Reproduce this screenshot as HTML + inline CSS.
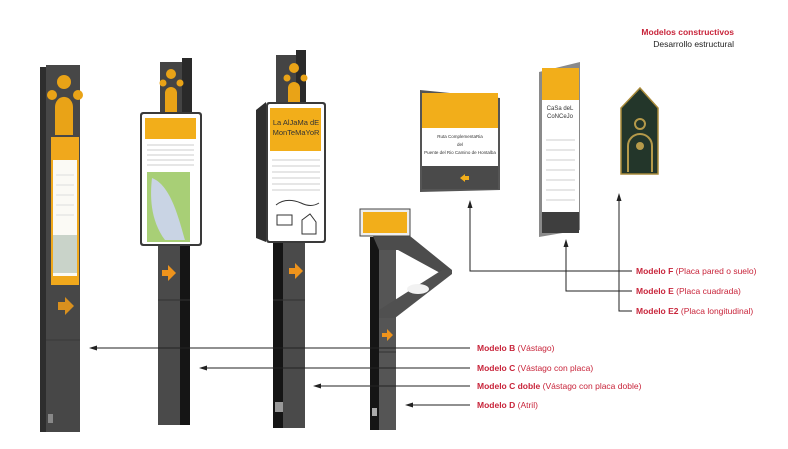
<!DOCTYPE html>
<html><head><meta charset="utf-8"><style>
html,body{margin:0;padding:0;background:#fff;}
svg{display:block;font-family:"Liberation Sans",Arial,sans-serif;}
</style></head><body>
<svg width="788" height="449" viewBox="0 0 788 449" xmlns="http://www.w3.org/2000/svg">
<!-- Post 1 Modelo B -->
<rect x="40" y="67" width="6" height="365" fill="#2e2e2e"/>
<rect x="46" y="65" width="34" height="367" fill="#474747"/>
<circle cx="64" cy="82" r="7" fill="#e9a317"/>
<circle cx="52" cy="95" r="5" fill="#e9a317"/>
<circle cx="78" cy="95" r="5" fill="#e9a317"/>
<path d="M55,135 V107 A8,9 0 0 1 73,107 V135 Z" fill="#e9a317"/>
<rect x="51" y="137" width="28" height="148" fill="#f0a81c"/>
<rect x="53" y="160" width="24" height="116" fill="#fbfaf5"/>
<g stroke="#ddd"><line x1="56" y1="175" x2="74" y2="175"/><line x1="56" y1="185" x2="74" y2="185"/><line x1="56" y1="195" x2="74" y2="195"/><line x1="56" y1="205" x2="74" y2="205"/><line x1="56" y1="215" x2="74" y2="215"/></g>
<rect x="53" y="235" width="24" height="38" fill="#c9d3c9"/>
<path d="M58,302 h7 v-5 l9,9 -9,9 v-5 h-7 Z" fill="#d9901e"/>
<line x1="46" y1="340" x2="80" y2="340" stroke="#3a3a3a"/>
<rect x="48" y="414" width="5" height="9" fill="#888"/>
<!-- Post 2 Modelo C -->
<rect x="160" y="62" width="22" height="56" fill="#444"/>
<rect x="182" y="58" width="10" height="60" fill="#2a2a2a"/>
<circle cx="171" cy="74" r="5" fill="#e9a317"/>
<circle cx="163" cy="83" r="3.5" fill="#e9a317"/>
<circle cx="180" cy="83" r="3.5" fill="#e9a317"/>
<path d="M165,112 V93 A6,6 0 0 1 177,93 V112 Z" fill="#e9a317"/>
<rect x="158" y="245" width="22" height="180" fill="#4a4a4a"/>
<rect x="180" y="245" width="10" height="180" fill="#151515"/>
<line x1="158" y1="300" x2="190" y2="300" stroke="#333"/>
<path d="M162,270 h6 v-5 l8,8 -8,8 v-5 h-6 Z" fill="#ee931c"/>
<rect x="140" y="112" width="62" height="134" rx="3" fill="#3a3a3a"/>
<rect x="142" y="114" width="58" height="130" rx="2" fill="#fff"/>
<rect x="145" y="118" width="51" height="21" fill="#f2ae1a"/>
<g stroke="#ccc" stroke-width="1"><line x1="147" y1="145" x2="194" y2="145"/><line x1="147" y1="150" x2="194" y2="150"/><line x1="147" y1="155" x2="194" y2="155"/><line x1="147" y1="160" x2="194" y2="160"/><line x1="147" y1="165" x2="194" y2="165"/></g>
<rect x="147" y="172" width="43" height="70" fill="#a8cf76"/>
<path d="M152,178 C170,185 178,215 185,240 L165,240 C150,220 150,195 152,178 Z" fill="#c9d4e4"/>
<!-- Post 3 Modelo C doble -->
<rect x="276" y="55" width="20" height="56" fill="#444"/>
<rect x="296" y="50" width="10" height="60" fill="#2a2a2a"/>
<circle cx="294" cy="68" r="5" fill="#e9a317"/>
<circle cx="287" cy="78" r="3.5" fill="#e9a317"/>
<circle cx="304" cy="78" r="3.5" fill="#e9a317"/>
<path d="M288,108 V88 A6,6 0 0 1 300,88 V108 Z" fill="#e9a317"/>
<rect x="273" y="242" width="10" height="186" fill="#151515"/>
<rect x="283" y="242" width="22" height="186" fill="#4a4a4a"/>
<line x1="273" y1="300" x2="305" y2="300" stroke="#333"/>
<path d="M289,268 h6 v-5 l8,8 -8,8 v-5 h-6 Z" fill="#ee931c"/>
<rect x="275" y="402" width="8" height="10" fill="#999"/>
<polygon points="256,110 266,102 266,242 256,238" fill="#2e2e2e"/>
<rect x="266" y="102" width="60" height="141" rx="3" fill="#3a3a3a"/>
<rect x="268" y="104" width="56" height="137" rx="2" fill="#fff"/>
<rect x="270" y="108" width="51" height="43" fill="#f2ae1a"/>
<text x="296" y="125" font-size="7.5" text-anchor="middle" fill="#333">La AlJaMa dE</text>
<text x="296" y="135" font-size="7.5" text-anchor="middle" fill="#333">MonTeMaYoR</text>
<g stroke="#ccc" stroke-width="1"><line x1="272" y1="160" x2="320" y2="160"/><line x1="272" y1="166" x2="320" y2="166"/><line x1="272" y1="172" x2="320" y2="172"/><line x1="272" y1="178" x2="320" y2="178"/><line x1="272" y1="184" x2="320" y2="184"/><line x1="272" y1="190" x2="320" y2="190"/></g>
<path d="M276,205 q10,-8 25,-2 q10,5 18,0 M277,215 h15 v10 h-15 Z M302,220 l8,-6 l6,8 v12 h-14 Z" stroke="#333" fill="none"/>
<!-- Post 4 Modelo D -->
<rect x="370" y="237" width="9" height="193" fill="#151515"/>
<rect x="379" y="237" width="17" height="193" fill="#555"/>
<polygon points="372,234 410,236 452,270 442,274 398,250 379,250" fill="#4c4c4c"/>
<polygon points="452,270 452,274 395,318 379,318 379,310 442,270" fill="#505050"/>
<ellipse cx="418" cy="289" rx="11" ry="5" fill="#f2f2f2"/>
<line x1="379" y1="352" x2="396" y2="352" stroke="#333"/>
<path d="M382,333 h5 v-4 l6,6 -6,6 v-4 h-5 Z" fill="#ee931c"/>
<rect x="372" y="408" width="5" height="8" fill="#aaa"/>
<rect x="360" y="209" width="50" height="27" fill="#eee" stroke="#444"/>
<rect x="363" y="212" width="44" height="21" fill="#f2ae1a"/>
<!-- Modelo F -->
<polygon points="420,90 500,98 500,190 420,192" fill="#555"/>
<rect x="422" y="93" width="76" height="96" fill="#fff"/>
<rect x="422" y="93" width="76" height="35" fill="#f2ae1a"/>
<rect x="422" y="166" width="76" height="23" fill="#4a4a4a"/>
<path d="M465,174 l-5,4 5,4 v-2 h4 v-4 h-4 Z" fill="#f2ae1a"/>
<text x="460" y="138" font-size="4.5" text-anchor="middle" fill="#333">Ruta ComplementaRia</text>
<text x="460" y="146" font-size="4.5" text-anchor="middle" fill="#333">del</text>
<text x="460" y="154" font-size="4.5" text-anchor="middle" fill="#333">Puente del Rio Camino de Hontalba</text>
<!-- Modelo E -->
<polygon points="539,72 580,62 580,230 539,237" fill="#8a8a8a"/>
<rect x="542" y="68" width="37" height="165" fill="#fff"/>
<rect x="542" y="68" width="37" height="32" fill="#f2ae1a"/>
<rect x="542" y="212" width="37" height="21" fill="#3e3e3e"/>
<g stroke="#ccc" stroke-width="1"><line x1="546" y1="140" x2="575" y2="140"/><line x1="546" y1="150" x2="575" y2="150"/><line x1="546" y1="160" x2="575" y2="160"/><line x1="546" y1="170" x2="575" y2="170"/><line x1="546" y1="180" x2="575" y2="180"/><line x1="546" y1="190" x2="575" y2="190"/><line x1="546" y1="200" x2="575" y2="200"/></g>
<text x="560" y="110" font-size="6" text-anchor="middle" fill="#333">CaSa deL</text>
<text x="560" y="118" font-size="6" text-anchor="middle" fill="#333">CoNCeJo</text>
<!-- Modelo E2 -->
<polygon points="640,88 658,108 658,174 621,174 621,108" fill="#23362a" stroke="#a88a3a" stroke-width="1.5"/>
<circle cx="640" cy="124" r="5" fill="none" stroke="#b59a4a" stroke-width="2"/>
<path d="M628,172 V146 A12,12 0 0 1 652,146 V172" fill="none" stroke="#b59a4a" stroke-width="2"/>
<circle cx="640" cy="146" r="4" fill="#b59a4a"/>
<!-- connectors -->
<g stroke="#222" stroke-width="1" fill="none">
<line x1="94" y1="348" x2="470" y2="348"/>
<line x1="204" y1="368" x2="470" y2="368"/>
<line x1="318" y1="386" x2="470" y2="386"/>
<line x1="410" y1="405" x2="470" y2="405"/>
<polyline points="470,205 470,271 632,271"/>
<polyline points="566,244 566,291 632,291"/>
<polyline points="619,198 619,311 632,311"/>
</g>
<g fill="#222">
<polygon points="89,348 97,345.5 97,350.5"/>
<polygon points="199,368 207,365.5 207,370.5"/>
<polygon points="313,386 321,383.5 321,388.5"/>
<polygon points="405,405 413,402.5 413,407.5"/>
<polygon points="470,200 467.5,208 472.5,208"/>
<polygon points="566,239 563.5,247 568.5,247"/>
<polygon points="619,193 616.5,201 621.5,201"/>
</g>
<g font-size="8.5" fill="#c8243a">
<text x="477" y="351"><tspan font-weight="bold">Modelo B</tspan> (Vástago)</text>
<text x="477" y="371"><tspan font-weight="bold">Modelo C</tspan> (Vástago con placa)</text>
<text x="477" y="389"><tspan font-weight="bold">Modelo C doble</tspan>  (Vástago con placa doble)</text>
<text x="477" y="408"><tspan font-weight="bold">Modelo D</tspan>  (Atril)</text>
<text x="636" y="274"><tspan font-weight="bold">Modelo F</tspan> (Placa pared o suelo)</text>
<text x="636" y="294"><tspan font-weight="bold">Modelo E</tspan> (Placa cuadrada)</text>
<text x="636" y="314"><tspan font-weight="bold">Modelo E2</tspan> (Placa longitudinal)</text>
</g>
<text x="734" y="35" font-size="8.5" font-weight="bold" fill="#c8243a" text-anchor="end">Modelos constructivos</text>
<text x="734" y="47" font-size="8.5" fill="#222" text-anchor="end">Desarrollo estructural</text>
</svg>
</body></html>
